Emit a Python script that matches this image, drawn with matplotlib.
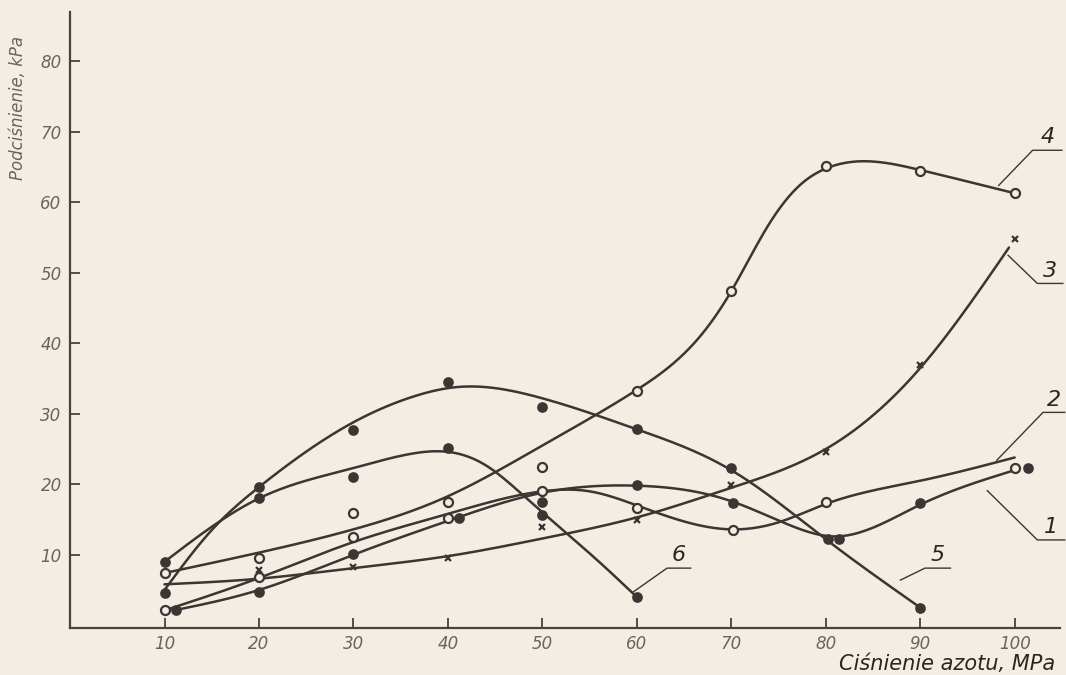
import numpy as np
import matplotlib
matplotlib.use("Agg")
import matplotlib.pyplot as plt

# kolory skanu
BG = "#f3eee4"
INK = "#3b3533"
GREY = "#6a6460"

plt.rcParams['font.family'] = ['Liberation Sans Narrow', 'DejaVu Sans']

# osie
x_ticks = [10, 20, 30, 40, 50, 60, 70, 80, 90, 100]
y_ticks = [10, 20, 30, 40, 50, 60, 70, 80]

# punkty pomiarowe
c1_px = [11.2, 20, 30, 41.2, 50, 60, 70.2, 81.4, 90, 101.4]
c1_py = [2.1, 4.7, 10.1, 15.2, 17.5, 19.9, 17.3, 12.2, 17.3, 22.3]
c2_px = [10, 20, 30, 40, 50, 60, 70.2, 80, 100]
c2_py = [2.1, 6.9, 12.5, 15.2, 19.1, 16.6, 13.5, 17.5, 22.3]
c3_px = [20, 30, 40, 50, 60, 70, 80, 90, 100]
c3_py = [7.9, 8.2, 9.6, 13.9, 15.0, 19.9, 24.6, 36.9, 54.8]
c4_px = [10, 20, 30, 40, 50, 60, 70, 80, 90, 100]
c4_py = [7.4, 9.6, 15.9, 17.5, 22.4, 33.3, 47.4, 65.1, 64.5, 61.3]
c5_px = [10, 20, 30, 40, 50, 60, 70, 80.2, 90]
c5_py = [4.6, 19.6, 27.7, 34.5, 31.0, 27.9, 22.3, 12.2, 2.5]
c6_px = [10, 20, 30, 40, 50, 60]
c6_py = [9.0, 18.0, 21.1, 25.1, 15.6, 4.0]

# przebieg krzywych (wygładzone linie narysowane na wykresie)
c1_lx = [11, 20, 30, 40, 50, 60, 70, 76, 81, 90, 100]
c1_ly = [2.1, 5.0, 10.0, 14.8, 18.8, 19.8, 17.6, 14.3, 12.6, 17.1, 22.0]
c2_lx = [10, 20, 30, 40, 50, 55, 60, 70, 75, 80, 90, 100]
c2_ly = [2.1, 6.7, 11.8, 15.8, 19.0, 19.0, 17.0, 13.6, 14.6, 17.2, 20.5, 23.8]
c3_lx = [10, 20, 30, 40, 50, 60, 70, 80, 90, 99.4]
c3_ly = [5.8, 6.6, 8.1, 9.8, 12.3, 15.3, 19.5, 25.0, 36.5, 53.6]
c4_lx = [10, 20, 30, 40, 50, 60, 66.7, 70, 73.8, 77.3, 80, 85, 90, 100]
c4_ly = [7.4, 10.3, 13.6, 18.3, 25.5, 33.4, 41.0, 47.4, 56.5, 62.5, 64.8, 65.8, 64.6, 61.3]
c5_lx = [10, 15, 20, 30, 36, 41, 50, 60, 70, 80, 90]
c5_ly = [5.0, 13.5, 19.6, 28.8, 32.3, 33.8, 32.2, 27.8, 22.0, 12.2, 2.5]
c6_lx = [10, 20, 30, 36, 40, 44, 48, 52, 56, 60]
c6_ly = [9.0, 18.0, 22.3, 24.3, 24.6, 22.7, 18.4, 13.7, 9.0, 4.0]

# numery krzywych: (tekst, poczatek odnosnika, poczatek podkreslenia, koniec podkreslenia)
labels = [
    ("4", (98.3, 62.4), (101.9, 67.4), (105.0, 67.4)),
    ("3", (99.3, 52.5), (102.4, 48.5), (105.1, 48.5)),
    ("2", (98.1, 23.4), (103.0, 30.2), (105.3, 30.2)),
    ("1", (97.1, 19.1), (102.4, 12.1), (105.3, 12.1)),
    ("5", (87.9, 6.4), (90.5, 8.1), (93.2, 8.1)),
    ("6", (59.6, 4.7), (63.2, 8.1), (65.7, 8.1)),
]


def spline(xk, yk, n=400):
    # naturalny spline kubiczny
    x = np.asarray(xk, float)
    y = np.asarray(yk, float)
    h = np.diff(x)
    m = len(x)
    A = np.zeros((m, m))
    r = np.zeros(m)
    A[0, 0] = A[-1, -1] = 1
    for i in range(1, m - 1):
        A[i, i - 1] = h[i - 1]
        A[i, i] = 2 * (h[i - 1] + h[i])
        A[i, i + 1] = h[i]
        r[i] = 3 * ((y[i + 1] - y[i]) / h[i] - (y[i] - y[i - 1]) / h[i - 1])
    c = np.linalg.solve(A, r)
    b = (y[1:] - y[:-1]) / h - h * (2 * c[:-1] + c[1:]) / 3
    d = (c[1:] - c[:-1]) / (3 * h)
    xs = np.linspace(x[0], x[-1], n)
    idx = np.clip(np.searchsorted(x, xs) - 1, 0, m - 2)
    t = xs - x[idx]
    ys = y[idx] + b[idx] * t + c[idx] * t ** 2 + d[idx] * t ** 3
    return xs, ys


fig = plt.figure(figsize=(10.66, 6.75), dpi=100, facecolor=BG)
ax = fig.add_axes([0.0657, 0.0696, 0.9287, 0.9124])
ax.set_facecolor(BG)

curves = [
    (c1_lx, c1_ly, c1_px, c1_py, "filled"),
    (c2_lx, c2_ly, c2_px, c2_py, "open"),
    (c3_lx, c3_ly, c3_px, c3_py, "cross"),
    (c4_lx, c4_ly, c4_px, c4_py, "open"),
    (c5_lx, c5_ly, c5_px, c5_py, "filled"),
    (c6_lx, c6_ly, c6_px, c6_py, "filled"),
]

for lx, ly, px, py, kind in curves:
    xs, ys = spline(lx, ly)
    ax.plot(xs, ys, color=INK, lw=1.8, solid_capstyle='round', zorder=2)
    if kind == "filled":
        ax.plot(px, py, 'o', ms=6.5, mfc=INK, mec=INK, mew=1.2, zorder=3)
    elif kind == "open":
        ax.plot(px, py, 'o', ms=6.5, mfc=BG, mec=INK, mew=1.6, zorder=3)
    else:
        ax.plot(px, py, 'x', ms=5, mec=INK, mew=1.6, zorder=3)

for txt, p0, p1, p2 in labels:
    ax.plot([p0[0], p1[0], p2[0]], [p0[1], p1[1], p2[1]], color=INK, lw=1.0,
            clip_on=False, zorder=2)
    ax.text((p1[0] + p2[0]) / 2, p1[1] + 0.4, txt, ha='center', va='bottom',
            fontsize=16, style='italic', color="#2a2523", clip_on=False)

ax.set_xlim(0, 104.8)
ax.set_ylim(-0.4, 87)
ax.set_xticks(x_ticks)
ax.set_yticks(y_ticks)
ax.set_xticklabels([str(v) for v in x_ticks], style='italic', fontsize=12, color=GREY)
ax.set_yticklabels([str(v) for v in y_ticks], style='italic', fontsize=12, color=GREY)
ax.tick_params(direction='in', length=7, width=1.2, color=INK)
ax.tick_params(axis='x', pad=5)
ax.tick_params(axis='y', pad=6)

for s in ['top', 'right']:
    ax.spines[s].set_visible(False)
for s in ['left', 'bottom']:
    ax.spines[s].set_color("#4a4240")
    ax.spines[s].set_linewidth(1.6)

fig.text(0.017, 0.84, "Podciśnienie, kPa", rotation=90, ha='center', va='center',
         fontsize=12, style='italic', color=GREY)
fig.text(0.888, 0.016, "Ciśnienie azotu, MPa", ha='center', va='center',
         fontsize=15, style='italic', color="#2a2523")

fig.savefig("out.png", dpi=100, facecolor=BG)
